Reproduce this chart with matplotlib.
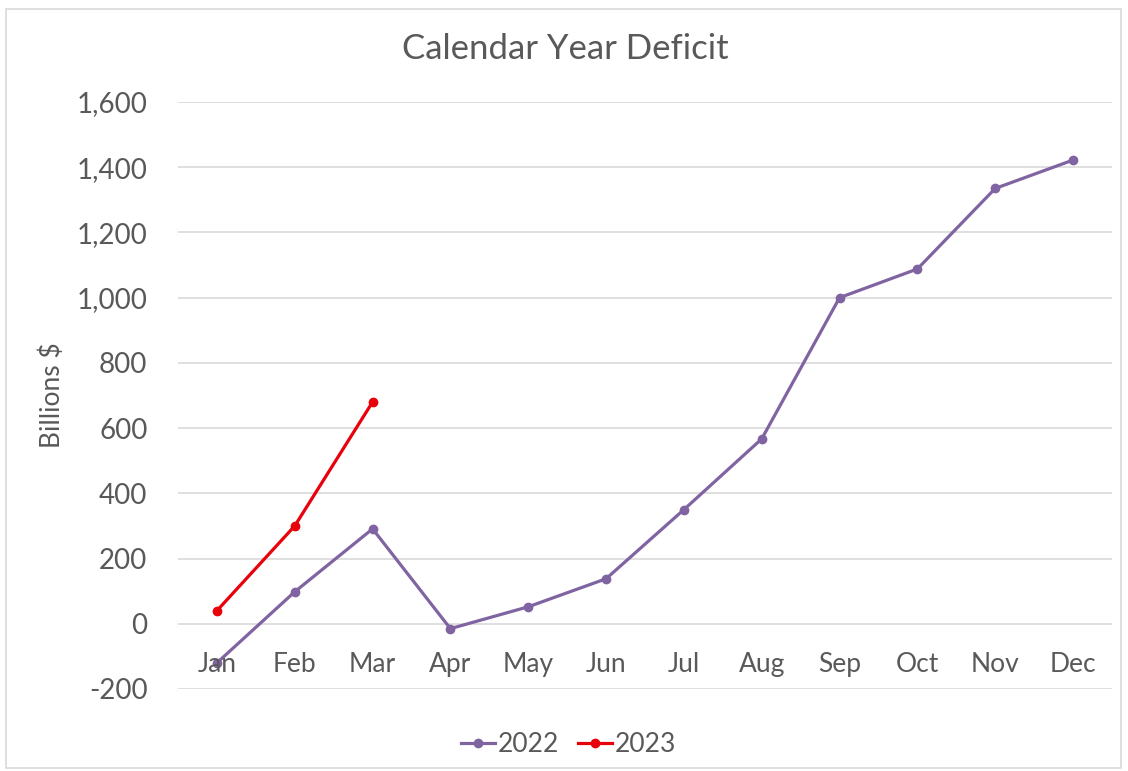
import matplotlib.pyplot as plt
from matplotlib.patches import Rectangle

# Données : déficit cumulé par mois (milliards $)
mois = ["Jan", "Feb", "Mar", "Apr", "May", "Jun",
        "Jul", "Aug", "Sep", "Oct", "Nov", "Dec"]
deficit_2022 = [-120, 98, 291, -15, 52, 138, 350, 567, 1000, 1088, 1335, 1422]
deficit_2023 = [40, 300, 680]

plt.rcParams['font.family'] = ['Lato', 'DejaVu Sans']

fig = plt.figure(figsize=(11.28, 7.71), dpi=100)
ax = fig.add_axes([0.1578, 0.1064, 0.828, 0.7613])

gris = "#595959"
grille = "#D9D9D9"

x = list(range(len(mois)))
ax.plot(x, deficit_2022, color="#8064A2", lw=2.3, marker="o", ms=6, label="2022")
ax.plot(x[:len(deficit_2023)], deficit_2023, color="#E8000B", lw=2.3, marker="o",
        ms=6, label="2023")

ax.set_xlim(-0.5, 11.5)
ax.set_ylim(-200, 1600)
ax.set_yticks(range(-200, 1601, 200))
ax.set_yticklabels([f"{v:,}" for v in range(-200, 1601, 200)])
ax.yaxis.grid(True, color=grille, lw=1.2)
ax.set_axisbelow(True)
ax.tick_params(axis="y", length=0, pad=22, labelsize=20, labelcolor=gris)

# étiquettes des mois placées juste sous la ligne zéro
ax.set_xticks([])
for i, m in enumerate(mois):
    ax.text(i, -125, m, ha="center", va="center", fontsize=19, color=gris)

for s in ax.spines.values():
    s.set_visible(False)

ax.set_ylabel("Billions $", fontsize=19, color=gris, labelpad=8)
fig.text(0.501, 0.937, "Calendar Year Deficit", ha="center", va="center",
         fontsize=25, color=gris)

ax.legend(loc="center", bbox_to_anchor=(0.418, -0.095), ncol=2, frameon=False,
          fontsize=19, labelcolor=gris, handlelength=1.3, handletextpad=0.1,
          columnspacing=0.7)

# cadre du graphique
fig.patches.append(Rectangle((0.005, 0.004), 0.989, 0.984, transform=fig.transFigure,
                             fill=False, edgecolor="#D9D9D9", lw=1.2))

fig.savefig("out.png", dpi=100)
